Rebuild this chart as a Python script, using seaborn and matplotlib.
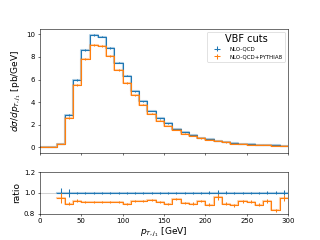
import numpy as np
import pandas as pd
import seaborn as sns
import matplotlib
import matplotlib.pyplot as plt
matplotlib.use('Agg')

# bin edges 0..300 GeV in 10 GeV steps
bin_lo = [0, 10, 20, 30, 40, 50, 60, 70, 80, 90, 100, 110, 120, 130, 140,
          150, 160, 170, 180, 190, 200, 210, 220, 230, 240, 250, 260, 270, 280, 290]
bin_width = 10

# dsigma/dpT [pb/GeV]
nlo_qcd = [0, 0, 0.29, 2.9, 5.97, 8.6, 9.91, 9.8, 8.81, 7.5, 6.36, 4.98, 4.09, 3.22, 2.58,
           2.12, 1.62, 1.36, 1.10, 0.87, 0.74, 0.58, 0.49, 0.38, 0.32, 0.27, 0.23, 0.20, 0.19, 0.15]
nlo_pythia = [0, 0, 0.276, 2.6, 5.52, 7.85, 9.07, 8.97, 8.06, 6.86, 5.69, 4.6, 3.78, 3.0, 2.36,
              1.90, 1.52, 1.23, 0.987, 0.80, 0.656, 0.556, 0.438, 0.334, 0.294, 0.247, 0.204, 0.184, 0.158, 0.143]

# relative statistical errors
nlo_qcd_rel = [0, 0, 0.05, 0.035, 0.012, 0.008, 0.008, 0.008, 0.008, 0.008, 0.008, 0.008, 0.008, 0.008, 0.008,
               0.008, 0.008, 0.008, 0.008, 0.01, 0.015, 0.03, 0.015, 0.012, 0.012, 0.012, 0.012, 0.015, 0.015, 0.025]
nlo_pythia_rel = [0, 0, 0.05, 0.02, 0.015, 0.01, 0.01, 0.01, 0.01, 0.01, 0.01, 0.01, 0.01, 0.01, 0.01,
                  0.01, 0.012, 0.012, 0.012, 0.012, 0.015, 0.03, 0.015, 0.015, 0.015, 0.015, 0.015, 0.02, 0.02, 0.03]

labels = ["NLO-QCD", "NLO-QCD+PYTHIA8"]
colors = ["#1f77b4", "#ff7f0e"]


def steps(ax, vals, err, color, label=None, mask=None):
    # Draws a histogram as step line (with a light halo) + errorbars at bin centers
    lo = np.array(bin_lo, dtype=float)
    vals = np.array(vals, dtype=float)
    err = np.array(err, dtype=float)
    if mask is not None:
        lo, vals, err = lo[mask], vals[mask], err[mask]
    edges = np.append(lo, lo[-1] + bin_width)
    df = pd.DataFrame({"x": edges, "y": np.append(vals, vals[-1])})
    # light, wider copy underneath
    sns.lineplot(data=df, x="x", y="y", ax=ax, color=color, lw=3, alpha=0.35,
                 drawstyle="steps-post", estimator=None, legend=False)
    sns.lineplot(data=df, x="x", y="y", ax=ax, color=color, lw=1.5,
                 drawstyle="steps-post", estimator=None, legend=False)
    ax.errorbar(lo + bin_width / 2, vals, xerr=bin_width / 2, yerr=err,
                fmt="none", ecolor=color, elinewidth=1.5, label=label)


def main():
    fig, (ax, rax) = plt.subplots(2, 1, figsize=(6.4, 4.8), dpi=50, sharex=True,
                                  gridspec_kw={"height_ratios": [3, 1], "hspace": 0.23})

    blue = np.array(nlo_qcd)
    orange = np.array(nlo_pythia)
    blue_err = blue * np.array(nlo_qcd_rel)
    orange_err = orange * np.array(nlo_pythia_rel)

    steps(ax, blue, blue_err, colors[0], labels[0])
    steps(ax, orange, orange_err, colors[1], labels[1])

    ax.set_ylabel(r"$d\sigma/dp_{T,j_1}$ [pb/GeV]", fontsize=13)
    ax.set_yticks([0, 2, 4, 6, 8, 10])
    ax.legend(title="VBF cuts", loc="upper right", fontsize=8, title_fontsize=14,
              handlelength=3)
    ax.tick_params(labelbottom=False)

    # ratio panel
    mask = blue > 0
    ratio = np.divide(orange, blue, out=np.zeros_like(orange), where=mask)
    rax.axhline(1.0, color="lightgray", lw=1.5, zorder=0)
    steps(rax, np.ones_like(blue), np.array(nlo_qcd_rel), colors[0], mask=mask)
    steps(rax, ratio, ratio * np.array(nlo_pythia_rel), colors[1], mask=mask)
    rax.set_ylim(0.8, 1.2)
    rax.set_yticks([0.8, 1.0, 1.2])
    rax.set_ylabel("ratio", fontsize=13)
    rax.set_xlim(0, 300)
    rax.set_xlabel(r"$p_{T,j_1}$ [GeV]", fontsize=13, labelpad=2)

    plt.savefig("out.png", dpi=50)


if __name__ == "__main__":
    main()
